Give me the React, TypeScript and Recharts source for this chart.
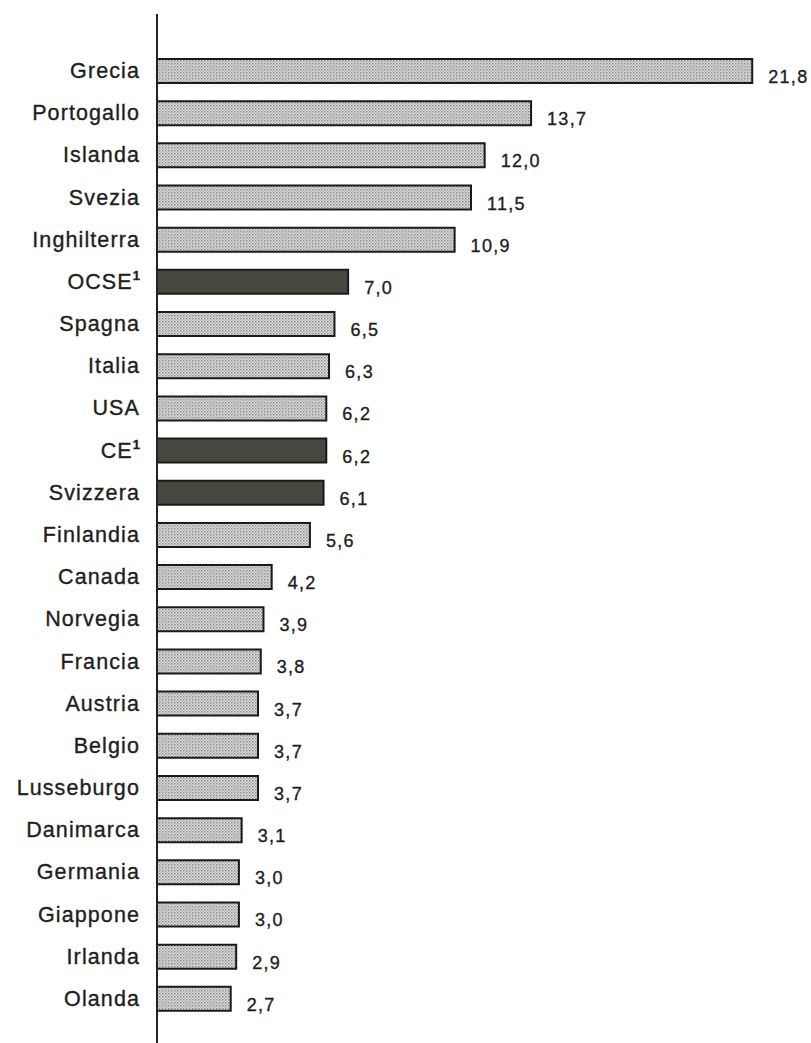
import React from "react";
import { BarChart, Bar, XAxis, YAxis, Cell, LabelList } from "recharts";

// Countries, top to bottom
const countries = [
  "Grecia", "Portogallo", "Islanda", "Svezia", "Inghilterra", "OCSE", "Spagna",
  "Italia", "USA", "CE", "Svizzera", "Finlandia", "Canada", "Norvegia", "Francia",
  "Austria", "Belgio", "Lusseburgo", "Danimarca", "Germania", "Giappone", "Irlanda", "Olanda",
];

const values = [
  21.8, 13.7, 12.0, 11.5, 10.9, 7.0, 6.5,
  6.3, 6.2, 6.2, 6.1, 5.6, 4.2, 3.9, 3.8,
  3.7, 3.7, 3.7, 3.1, 3.0, 3.0, 2.9, 2.7,
];

// Aggregates and Switzerland are drawn in the dark fill
const highlighted = ["OCSE", "CE", "Svizzera"];
// Names carrying footnote 1
const footnoted = ["OCSE", "CE"];

const data = countries.map((name, i) => ({ name, value: values[i] }));

const FONT = "'Liberation Sans', Arial, Helvetica, sans-serif";

const CategoryTick = (props: any) => {
  const { x, y, payload } = props;
  const name: string = payload.value;
  const hasNote = footnoted.includes(name);
  return (
    <text
      x={x}
      y={y}
      dy={7}
      textAnchor="end"
      fill="#1e1e1e"
      stroke="#1e1e1e"
      strokeWidth={0.35}
      fontFamily={FONT}
      fontSize={21.5}
      letterSpacing={1.1}
    >
      {name}
      {hasNote && (
        <tspan fontSize={13} dy={-9} letterSpacing={0} fontWeight="bold">
          1
        </tspan>
      )}
    </text>
  );
};

const ValueLabel = (props: any) => {
  const { x, y, width, height, value } = props;
  return (
    <text
      x={x + width + 16}
      y={y + height / 2 + 12}
      fill="#1e1e1e"
      stroke="#1e1e1e"
      strokeWidth={0.35}
      fontFamily={FONT}
      fontSize={18}
      letterSpacing={1.3}
    >
      {Number(value).toFixed(1).replace(".", ",")}
    </text>
  );
};

export default function App() {
  return (
    <div style={{ position: "absolute", left: 0, top: 0, background: "#fff" }}>
      <BarChart
        width={811}
        height={1043}
        data={data}
        layout="vertical"
        margin={{ top: 14, right: 26, bottom: 0, left: 0 }}
      >
        <defs>
          <pattern id="dotFill" width="3" height="3" patternUnits="userSpaceOnUse">
            <rect width="3" height="3" fill="#e0e0e0" />
            <rect width="1.5" height="1.5" fill="#888888" />
            <rect x="1.5" y="1.5" width="1.5" height="1.5" fill="#b0b0b0" />
          </pattern>
        </defs>
        <XAxis type="number" domain={[0, 23]} hide />
        <YAxis
          type="category"
          dataKey="name"
          width={157}
          padding={{ top: 36, bottom: 23 }}
          axisLine={{ stroke: "#222", strokeWidth: 2 }}
          tickLine={false}
          tickSize={0}
          tickMargin={17}
          tick={<CategoryTick />}
          interval={0}
        />
        <Bar
          dataKey="value"
          barSize={24}
          stroke="#1a1a1a"
          strokeWidth={2}
          isAnimationActive={false}
        >
          {data.map((d) => (
            <Cell
              key={d.name}
              fill={highlighted.includes(d.name) ? "#46473e" : "url(#dotFill)"}
            />
          ))}
          <LabelList dataKey="value" content={<ValueLabel />} />
        </Bar>
      </BarChart>
    </div>
  );
}
